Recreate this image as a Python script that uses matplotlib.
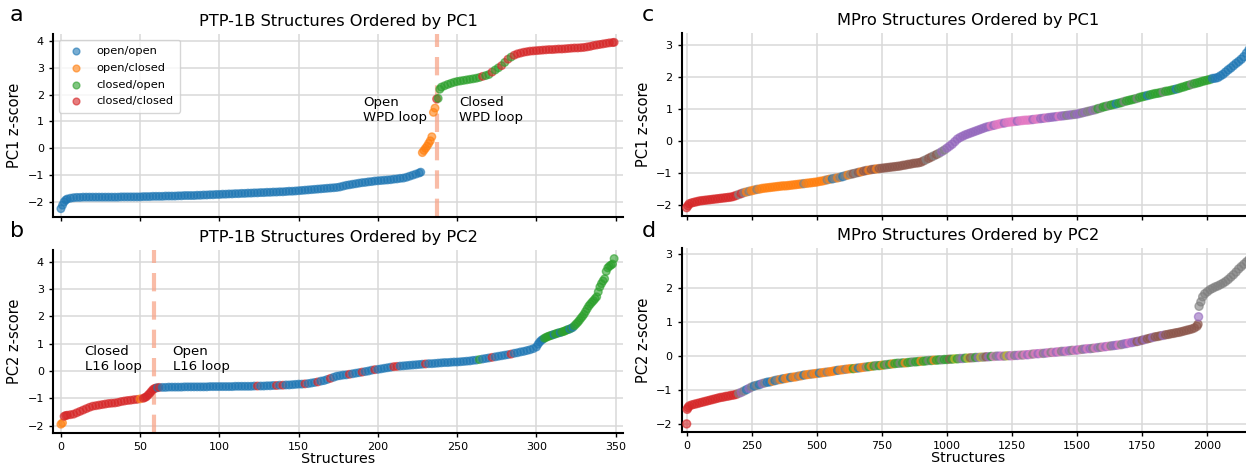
import numpy as np
import matplotlib
matplotlib.use("Agg")
import matplotlib.pyplot as plt
from matplotlib.ticker import MultipleLocator

# colour codes (tab10): b blue, o orange, g green, r red, p purple,
# n brown, k pink, y grey, l olive
tab = {'b': '#1f77b4', 'o': '#ff7f0e', 'g': '#2ca02c', 'r': '#d62728',
       'p': '#9467bd', 'n': '#8c564b', 'k': '#e377c2', 'y': '#7f7f7f',
       'l': '#bcbd22'}

ptp_states = ['open/open', 'open/closed', 'closed/open', 'closed/closed']
ptp_state_codes = ['b', 'o', 'g', 'r']

# ---- PTP-1B ordered by PC1 (rank of structure, z-score, loop state) ----
ptp_pc1_idx = (list(range(0, 5)) + list(range(6, 227, 2)) +
               list(range(227, 241)) + list(range(242, 349, 2)) + [349])
ptp_pc1_z = [-2.25, -2.12, -2.00, -1.93, -1.89,
             -1.86, -1.84, -1.83, -1.83, -1.82, -1.82, -1.82, -1.82, -1.82, -1.82,
             -1.82, -1.82, -1.82, -1.82, -1.82, -1.82, -1.81, -1.81, -1.81, -1.81,
             -1.81, -1.81, -1.81, -1.80, -1.80, -1.80, -1.79, -1.79, -1.79, -1.79,
             -1.78, -1.78, -1.78, -1.78, -1.77, -1.77, -1.76, -1.76, -1.76, -1.76,
             -1.75, -1.75, -1.74, -1.74, -1.73, -1.73, -1.72, -1.72, -1.71, -1.71,
             -1.70, -1.70, -1.69, -1.69, -1.68, -1.68, -1.67, -1.67, -1.66, -1.66,
             -1.65, -1.65, -1.64, -1.64, -1.63, -1.63, -1.62, -1.62, -1.61, -1.60,
             -1.60, -1.59, -1.58, -1.57, -1.56, -1.55, -1.54, -1.53, -1.52, -1.51,
             -1.50, -1.49, -1.48, -1.47, -1.46, -1.44, -1.41, -1.38, -1.36, -1.34,
             -1.32, -1.30, -1.28, -1.27, -1.25, -1.24, -1.22, -1.21, -1.20, -1.19,
             -1.18, -1.17, -1.15, -1.14, -1.12, -1.11, -1.08, -1.04, -1.00, -0.96,
             -0.92,
             -0.89, -0.16, -0.08, 0.00, 0.08, 0.18, 0.28, 0.43, 1.34, 1.50,
             1.84, 1.86, 2.20, 2.28,
             2.33, 2.38, 2.42, 2.46, 2.49, 2.51, 2.53, 2.55, 2.57, 2.59,
             2.61, 2.64, 2.68, 2.71, 2.75, 2.84, 2.92, 3.00, 3.08, 3.20,
             3.32, 3.40, 3.47, 3.52, 3.55, 3.58, 3.60, 3.62, 3.63, 3.64,
             3.65, 3.66, 3.67, 3.68, 3.68, 3.69, 3.70, 3.70, 3.71, 3.72,
             3.73, 3.74, 3.74, 3.75, 3.76, 3.78, 3.80, 3.83, 3.85, 3.87,
             3.89, 3.91, 3.93, 3.94,
             3.95]
ptp_pc1_state = ("bbbbb"
                 "bbbbb bbbbb bbbbb bbbbb bbbbb bbbbb bbbbb bbbbb bbbbb bbbbb "
                 "bbbbb bbbbb bbbbb bbbbb bbbbb bbbbb bbbbb bbbbb bbbbb bbbbb "
                 "bbbbb bbbbb b"
                 "boooo ooooo rggg"
                 "ggggg ggggg ggrgg rggrg rgrrr rrrrr "
                 "rrrrr rrrrr rrrrr rrrrr rrrr"
                 "r").replace(" ", "")

# ---- PTP-1B ordered by PC2 ----
ptp_pc2_idx = (list(range(0, 5)) + list(range(6, 51, 2)) + list(range(52, 63)) +
               list(range(64, 299, 2)) + list(range(300, 350)))
ptp_pc2_z = [-1.95, -1.90, -1.66, -1.63, -1.62,
             -1.60, -1.58, -1.53, -1.48, -1.43, -1.38, -1.33, -1.29, -1.27, -1.25,
             -1.23, -1.21, -1.19, -1.18, -1.17, -1.15, -1.12, -1.10, -1.08, -1.07,
             -1.05, -1.04, -1.02,
             -1.00, -0.97, -0.94, -0.88, -0.82, -0.75, -0.68, -0.64, -0.62, -0.61,
             -0.60,
             -0.60, -0.60, -0.59, -0.59, -0.59, -0.59, -0.59, -0.58, -0.58, -0.58,
             -0.58, -0.58, -0.58, -0.58, -0.58, -0.57, -0.57, -0.57, -0.57, -0.57,
             -0.57, -0.57, -0.57, -0.56, -0.56, -0.56, -0.56, -0.56, -0.56, -0.55,
             -0.55, -0.55, -0.55, -0.54, -0.54, -0.53, -0.53, -0.52, -0.52, -0.51,
             -0.51, -0.50, -0.49, -0.48, -0.48, -0.47, -0.46, -0.44, -0.42, -0.40,
             -0.37, -0.35, -0.31, -0.27, -0.23, -0.19, -0.17, -0.15, -0.14, -0.12,
             -0.10, -0.08, -0.06, -0.04, -0.02, 0.00, 0.03, 0.05, 0.06, 0.08,
             0.10, 0.12, 0.14, 0.16, 0.17, 0.18, 0.19, 0.20, 0.21, 0.22,
             0.23, 0.24, 0.25, 0.26, 0.27, 0.27, 0.28, 0.29, 0.30, 0.31,
             0.31, 0.32, 0.33, 0.33, 0.34, 0.35, 0.36, 0.37, 0.39, 0.40,
             0.42, 0.44, 0.46, 0.48, 0.50, 0.52, 0.54, 0.56, 0.58, 0.60,
             0.62, 0.65, 0.67, 0.70, 0.72, 0.75, 0.78, 0.82,
             0.88, 0.98, 1.06, 1.12, 1.16, 1.20, 1.23, 1.26, 1.28, 1.30,
             1.32, 1.34, 1.36, 1.38, 1.40, 1.41, 1.43, 1.45, 1.47, 1.50,
             1.52, 1.54, 1.57, 1.60, 1.66, 1.72, 1.78, 1.85, 1.93, 2.00,
             2.08, 2.18, 2.28, 2.38, 2.45, 2.52, 2.58, 2.65, 2.72, 2.90,
             3.08, 3.20, 3.30, 3.38, 3.65, 3.78, 3.84, 3.88, 3.92, 4.12]
ptp_pc2_state = ("oorrr"
                 "rrrrr rrrrr rrrrr rrrrr rro"
                 "rrrrr rrrrb r"
                 "bbbbb bbbbb bbbbb bbbbb bbbbb bbbbb rbbbb brbrb "
                 "bbbbb rbbbr bbbrb bbbbr bbbrb bbrbb bbbrr bbbbb "
                 "bbbrb bbbbb bbbbb bbbbb gbbbr bbbbb rbbbb bbb"
                 "bbbbb ggggg gbggg bgggg gbgbg ggggg "
                 "ggggg ggggg ggggg ggggg").replace(" ", "")

# ---- MPro ordered by PC1 (colour = structure group) ----
mpro_pc1_idx = [0, 5] + list(range(10, 2181, 10))
mpro_pc1_z = [-2.08, -2.02,
              -1.96, -1.93, -1.91, -1.89, -1.87, -1.86, -1.85, -1.84, -1.83, -1.82,
              -1.81, -1.80, -1.79, -1.78, -1.77, -1.76, -1.75, -1.73, -1.70, -1.67,
              -1.64, -1.61, -1.59, -1.57, -1.55, -1.53, -1.51, -1.50, -1.48, -1.47,
              -1.46, -1.45, -1.44, -1.43, -1.42, -1.41, -1.40, -1.40, -1.39, -1.38,
              -1.37, -1.36, -1.35, -1.34, -1.33, -1.32, -1.31, -1.30, -1.29, -1.28,
              -1.26, -1.25, -1.23, -1.21, -1.19, -1.18, -1.16, -1.15, -1.13, -1.11,
              -1.08, -1.06, -1.04, -1.02, -1.00, -0.98, -0.96, -0.94, -0.92, -0.91,
              -0.89, -0.88, -0.87, -0.86, -0.85, -0.84, -0.83, -0.82, -0.81, -0.80,
              -0.79, -0.78, -0.76, -0.75, -0.73, -0.72, -0.70, -0.69, -0.68, -0.66,
              -0.62, -0.58, -0.54, -0.50, -0.46, -0.42, -0.38, -0.33, -0.28, -0.22,
              -0.16, -0.10, -0.02, 0.06, 0.11, 0.15, 0.19, 0.22, 0.25, 0.28,
              0.31, 0.34, 0.37, 0.40, 0.43, 0.45, 0.47, 0.49, 0.51, 0.53,
              0.55, 0.56, 0.58, 0.59, 0.60, 0.61, 0.62, 0.63, 0.64, 0.65,
              0.65, 0.66, 0.67, 0.68, 0.69, 0.70, 0.71, 0.72, 0.73, 0.74,
              0.75, 0.76, 0.77, 0.78, 0.79, 0.80, 0.81, 0.82, 0.83, 0.84,
              0.86, 0.88, 0.90, 0.92, 0.94, 0.96, 0.98, 1.01, 1.03, 1.06,
              1.08, 1.10, 1.12, 1.14, 1.16, 1.18, 1.20, 1.23, 1.25, 1.27,
              1.29, 1.31, 1.33, 1.36, 1.38, 1.40, 1.42, 1.44, 1.46, 1.48,
              1.49, 1.51, 1.53, 1.55, 1.56, 1.58, 1.60, 1.62, 1.64, 1.67,
              1.69, 1.72, 1.74, 1.77, 1.79, 1.81, 1.83, 1.86, 1.88, 1.90,
              1.92, 1.95, 1.96, 1.98, 2.03, 2.08, 2.15, 2.22, 2.28, 2.35,
              2.42, 2.48, 2.55, 2.63, 2.74, 2.85, 2.95, 3.05]
mpro_pc1_group = ("rr"
                  "rrrrr rrrrr rrrrr rrrry ryoyo oyooo ooooo ooooo "
                  "ooooy ooooo oooyo byoyb yoyny nonno nnonn nnnnn "
                  "nnnnn nnnnn nynny nypyp ppppp ppppp ppppp pkpkk "
                  "kpkkk kpkkk kkpkk ppkpp ppkpp yppyp pypyy pygyg "
                  "gyggb ggygg ggygg gbggg ggygg ggbgg gggyg ggggg "
                  "gbbbb bbbbb bbbbb bbb").replace(" ", "")

# ---- MPro ordered by PC2 ----
mpro_pc2_idx = ([0, 2, 5] + list(range(10, 1961, 10)) +
                [1964, 1966, 1968, 1975, 1982, 1990] + list(range(2000, 2181, 10)))
mpro_pc2_z = [-2.00, -1.57, -1.52,
              -1.47, -1.44, -1.42, -1.40, -1.38, -1.36, -1.34, -1.32, -1.30, -1.28,
              -1.26, -1.24, -1.22, -1.21, -1.19, -1.18, -1.16, -1.15, -1.13, -1.10,
              -1.07, -1.03, -0.99, -0.95, -0.91, -0.88, -0.86, -0.84, -0.81, -0.79,
              -0.77, -0.76, -0.74, -0.72, -0.70, -0.69, -0.67, -0.66, -0.64, -0.63,
              -0.62, -0.61, -0.59, -0.58, -0.56, -0.55, -0.54, -0.53, -0.52, -0.51,
              -0.50, -0.49, -0.48, -0.47, -0.46, -0.45, -0.43, -0.42, -0.41, -0.40,
              -0.39, -0.38, -0.37, -0.37, -0.36, -0.35, -0.34, -0.33, -0.32, -0.31,
              -0.30, -0.29, -0.28, -0.28, -0.27, -0.26, -0.25, -0.24, -0.23, -0.22,
              -0.21, -0.21, -0.20, -0.20, -0.19, -0.18, -0.17, -0.17, -0.16, -0.15,
              -0.15, -0.14, -0.13, -0.13, -0.12, -0.12, -0.11, -0.11, -0.10, -0.10,
              -0.09, -0.09, -0.08, -0.08, -0.07, -0.07, -0.06, -0.06, -0.05, -0.05,
              -0.04, -0.04, -0.03, -0.03, -0.02, -0.02, -0.01, -0.01, 0.00, 0.00,
              0.00, 0.00, 0.01, 0.01, 0.01, 0.02, 0.02, 0.03, 0.03, 0.04,
              0.04, 0.05, 0.06, 0.07, 0.07, 0.08, 0.08, 0.09, 0.10, 0.11,
              0.11, 0.12, 0.13, 0.14, 0.14, 0.15, 0.16, 0.17, 0.17, 0.18,
              0.19, 0.20, 0.21, 0.22, 0.22, 0.23, 0.24, 0.25, 0.26, 0.27,
              0.28, 0.29, 0.30, 0.31, 0.32, 0.33, 0.34, 0.36, 0.37, 0.39,
              0.40, 0.42, 0.43, 0.45, 0.47, 0.49, 0.51, 0.53, 0.55, 0.57,
              0.58, 0.60, 0.61, 0.63, 0.64, 0.66, 0.67, 0.69, 0.70, 0.72,
              0.74, 0.76, 0.78, 0.80, 0.83, 0.88,
              0.94, 1.16, 1.47, 1.60, 1.75, 1.84,
              1.90, 1.96, 2.00, 2.04, 2.07, 2.11, 2.15, 2.20, 2.26, 2.33,
              2.40, 2.48, 2.57, 2.64, 2.71, 2.78, 2.85, 2.91, 2.97]
mpro_pc2_group = ("rrr"
                  "rrrrr rrrrr rrrrr rrrry pybpy bybpy bboby oboob "
                  "ooyob ooyoo booyo ooboo yoogo booyg ogygo gygog "
                  "gygog gyggo ggygo ggygg nglgy pglny gplyn pgkyp "
                  "kylpk ypkyk pkykp kypky kpkyp kpykp kypkp ykpyk "
                  "pkypp kyppk ppnpn pnnpn nnpnn nnnnn nnnnn n"
                  "npyyyy"
                  "yyyyy yyyyy yyyyy yyyy").replace(" ", "")

for _i, _z, _c in [(ptp_pc1_idx, ptp_pc1_z, ptp_pc1_state),
                   (ptp_pc2_idx, ptp_pc2_z, ptp_pc2_state),
                   (mpro_pc1_idx, mpro_pc1_z, mpro_pc1_group),
                   (mpro_pc2_idx, mpro_pc2_z, mpro_pc2_group)]:
    assert len(_i) == len(_z) == len(_c), (len(_i), len(_z), len(_c))

W, H = 1246, 465
fig = plt.figure(figsize=(W / 100, H / 100), dpi=100)

ax_a = fig.add_axes([53 / W, 1 - 217 / H, 570 / W, 183 / H])
ax_b = fig.add_axes([53 / W, 1 - 432.7 / H, 570 / W, 182.3 / H])
ax_c = fig.add_axes([681.7 / W, 1 - 216 / H, 572.3 / W, 182.7 / H])
ax_d = fig.add_axes([681.7 / W, 1 - 431.7 / H, 572.3 / W, 183.4 / H])


def draw(ax, idx, z, codes, size):
    ax.scatter(idx, z, c=[tab[c] for c in codes], s=size, alpha=0.6,
               linewidths=1.0, zorder=3)


draw(ax_a, ptp_pc1_idx, ptp_pc1_z, ptp_pc1_state, 30)
draw(ax_b, ptp_pc2_idx, ptp_pc2_z, ptp_pc2_state, 30)
draw(ax_c, mpro_pc1_idx, mpro_pc1_z, mpro_pc1_group, 34)
draw(ax_d, mpro_pc2_idx, mpro_pc2_z, mpro_pc2_group, 34)

# legend for the PTP-1B loop states
for name, code in zip(ptp_states, ptp_state_codes):
    ax_a.scatter([], [], c=tab[code], s=24, alpha=0.6, label=name)
ax_a.legend(loc='upper left', fontsize=8.2, frameon=True, handletextpad=0.8,
            borderpad=0.55, labelspacing=0.6, bbox_to_anchor=(0.0, 1.0))

# loop boundaries
dash = (0, (4.4, 2.4))
ax_a.axvline(237, color='#f7a68a', alpha=0.75, lw=3, ls=dash, zorder=2)
ax_b.axvline(58.5, color='#f7a68a', alpha=0.75, lw=3, ls=dash, zorder=2)
ax_a.text(190.5, 1.95, "Open\nWPD loop", fontsize=9.5, va='top')
ax_a.text(251, 1.95, "Closed\nWPD loop", fontsize=9.5, va='top')
ax_b.text(15, 0.95, "Closed\nL16 loop", fontsize=9.5, va='top')
ax_b.text(70.5, 0.95, "Open\nL16 loop", fontsize=9.5, va='top')

ax_a.set_xlim(-5, 354.6)
ax_b.set_xlim(-5, 354.6)
ax_a.set_ylim(-2.56, 4.26)
ax_b.set_ylim(-2.26, 4.42)
ax_c.set_xlim(-19, 2179)
ax_d.set_xlim(-19, 2179)
ax_c.set_ylim(-2.34, 3.36)
ax_d.set_ylim(-2.23, 3.18)

for ax in (ax_a, ax_b):
    ax.xaxis.set_major_locator(MultipleLocator(50))
for ax in (ax_c, ax_d):
    ax.xaxis.set_major_locator(MultipleLocator(250))
for ax in (ax_a, ax_b, ax_c, ax_d):
    ax.yaxis.set_major_locator(MultipleLocator(1))
    ax.spines[['top', 'right']].set_visible(False)
    ax.spines[['left', 'bottom']].set_linewidth(1.5)
    ax.set_axisbelow(True)
    ax.grid(True, color='#d8d8d8', lw=1.1)
    ax.tick_params(labelsize=8, length=3, width=1)
ax_a.tick_params(labelbottom=False)
ax_c.tick_params(labelbottom=False)

ax_a.set_title("PTP-1B Structures Ordered by PC1", fontsize=11.7)
ax_b.set_title("PTP-1B Structures Ordered by PC2", fontsize=11.7)
ax_c.set_title("MPro Structures Ordered by PC1", fontsize=11.7)
ax_d.set_title("MPro Structures Ordered by PC2", fontsize=11.7)
ax_a.set_ylabel("PC1 z-score", fontsize=10.5)
ax_b.set_ylabel("PC2 z-score", fontsize=10.5)
ax_c.set_ylabel("PC1 z-score", fontsize=10.5)
ax_d.set_ylabel("PC2 z-score", fontsize=10.5)
ax_b.set_xlabel("Structures", fontsize=10.3, labelpad=0)
ax_d.set_xlabel("Structures", fontsize=10.3, labelpad=0)

fig.text(0.008, 0.99, "a", fontsize=16, va='top')
fig.text(0.008, 0.525, "b", fontsize=16, va='top')
fig.text(0.515, 0.99, "c", fontsize=16, va='top')
fig.text(0.515, 0.525, "d", fontsize=16, va='top')

fig.savefig("out.png", dpi=100)
